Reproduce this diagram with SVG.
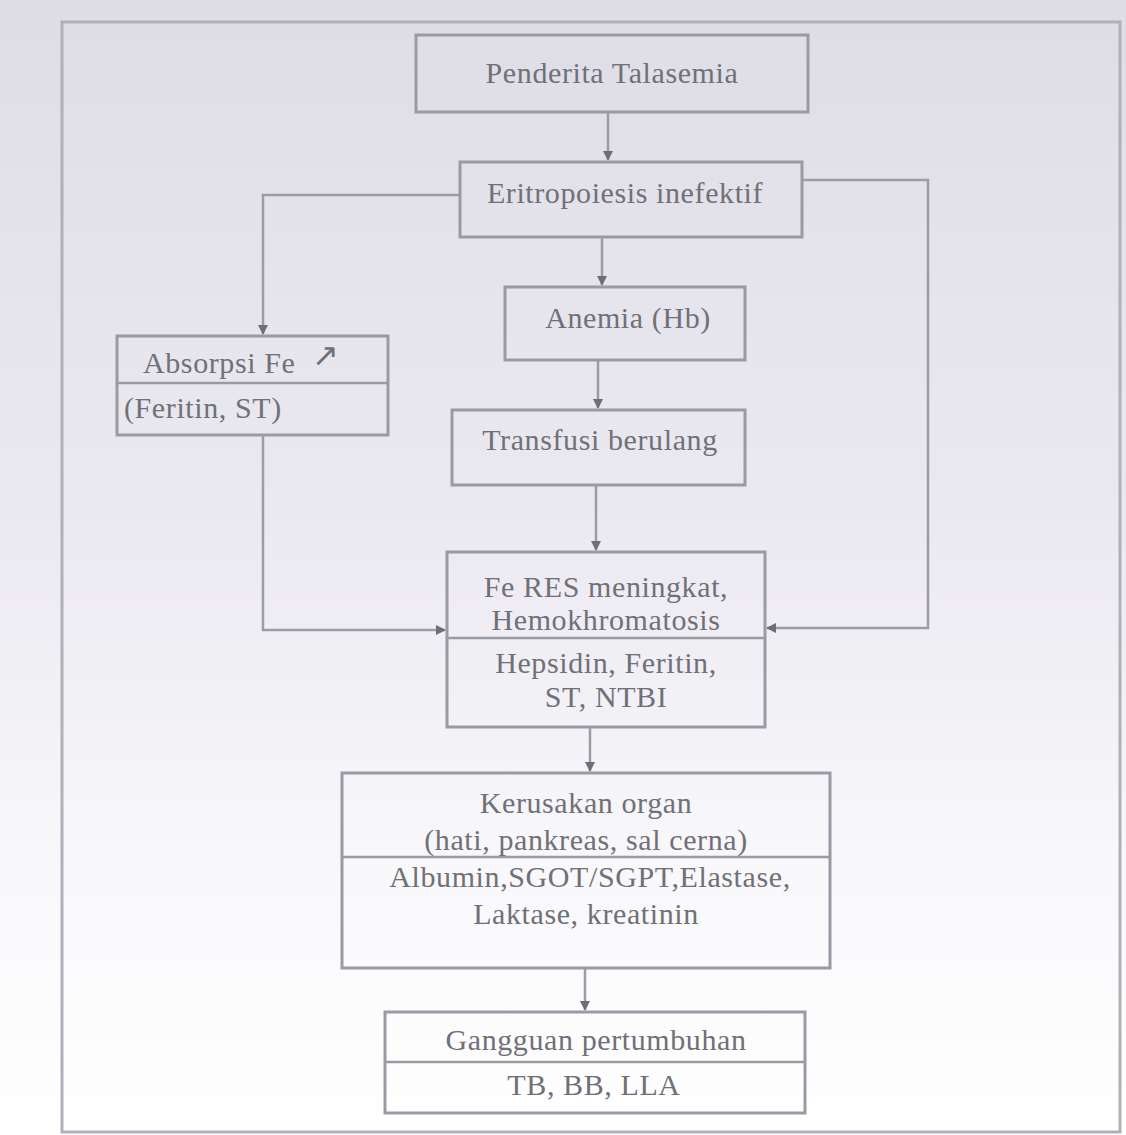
<svg xmlns="http://www.w3.org/2000/svg" width="1126" height="1135" viewBox="0 0 1126 1135">
<defs>
<linearGradient id="bg" x1="0" y1="0" x2="0" y2="1">
<stop offset="0" stop-color="#dedde6"/>
<stop offset="0.45" stop-color="#ebe9f0"/>
<stop offset="0.75" stop-color="#f8f7fa"/>
<stop offset="1" stop-color="#ffffff"/>
</linearGradient>
<marker id="arr" viewBox="0 0 10 10" refX="9" refY="5" markerWidth="4" markerHeight="4" orient="auto" markerUnits="strokeWidth">
<path d="M0,0 L10,5 L0,10 z" fill="#6e6e78"/>
</marker>
<style>
.box{fill:none;stroke:#9a9aa4;stroke-width:3}
.div{stroke:#9a9aa4;stroke-width:2.5}
.t{font-family:"Liberation Serif","Times New Roman",serif;font-size:30px;letter-spacing:0.6px;fill:#707078;text-anchor:middle}
.c{fill:none;stroke:#9c9ca6;stroke-width:2.5}
</style>
</defs>
<rect x="0" y="0" width="1126" height="1135" fill="url(#bg)"/>
<rect x="62" y="22" width="1058" height="1110" fill="none" stroke="#b0b0ba" stroke-width="3"/>

<g id="connectors">
<line class="c" x1="608" y1="112" x2="608" y2="160" marker-end="url(#arr)"/>
<line class="c" x1="602" y1="237" x2="602" y2="285" marker-end="url(#arr)"/>
<line class="c" x1="598" y1="360" x2="598" y2="408" marker-end="url(#arr)"/>
<line class="c" x1="596" y1="485" x2="596" y2="550" marker-end="url(#arr)"/>
<line class="c" x1="590" y1="727" x2="590" y2="771" marker-end="url(#arr)"/>
<line class="c" x1="585" y1="968" x2="585" y2="1010" marker-end="url(#arr)"/>
<polyline class="c" points="460,195 263,195 263,334" marker-end="url(#arr)"/>
<polyline class="c" points="263,435 263,630 445,630" marker-end="url(#arr)"/>
<polyline class="c" points="802,180 928,180 928,628 767,628" marker-end="url(#arr)"/>
</g>

<g id="n1">
<rect class="box" x="416" y="35" width="392" height="77"/>
<text class="t" x="612" y="83">Penderita Talasemia</text>
</g>
<g id="n2">
<rect class="box" x="460" y="162" width="342" height="75"/>
<text class="t" x="625" y="203">Eritropoiesis inefektif</text>
</g>
<g id="n3">
<rect class="box" x="505" y="287" width="240" height="73"/>
<text class="t" x="628" y="328">Anemia (Hb)</text>
</g>
<g id="n4">
<rect class="box" x="117" y="336" width="271" height="99"/>
<line class="div" x1="117" y1="383" x2="388" y2="383"/>
<text class="t" x="143" y="373" style="text-anchor:start">Absorpsi Fe</text>
<text class="t" x="326" y="366" style="font-size:32px">↗</text>
<text class="t" x="124" y="418" style="text-anchor:start">(Feritin, ST)</text>
</g>
<g id="n5">
<rect class="box" x="452" y="410" width="293" height="75"/>
<text class="t" x="600" y="450">Transfusi berulang</text>
</g>
<g id="n6">
<rect class="box" x="447" y="552" width="318" height="175"/>
<line class="div" x1="447" y1="638" x2="765" y2="638"/>
<text class="t" x="606" y="597">Fe RES meningkat,</text>
<text class="t" x="606" y="630">Hemokhromatosis</text>
<text class="t" x="606" y="673">Hepsidin, Feritin,</text>
<text class="t" x="606" y="707">ST, NTBI</text>
</g>
<g id="n7">
<rect class="box" x="342" y="773" width="488" height="195"/>
<line class="div" x1="342" y1="857" x2="830" y2="857"/>
<text class="t" x="586" y="813">Kerusakan organ</text>
<text class="t" x="586" y="850">(hati, pankreas, sal cerna)</text>
<text class="t" x="590" y="887">Albumin,SGOT/SGPT,Elastase,</text>
<text class="t" x="586" y="924">Laktase, kreatinin</text>
</g>
<g id="n8">
<rect class="box" x="385" y="1012" width="420" height="101"/>
<line class="div" x1="385" y1="1062" x2="805" y2="1062"/>
<text class="t" x="596" y="1050">Gangguan pertumbuhan</text>
<text class="t" x="594" y="1095">TB, BB, LLA</text>
</g>
</svg>
